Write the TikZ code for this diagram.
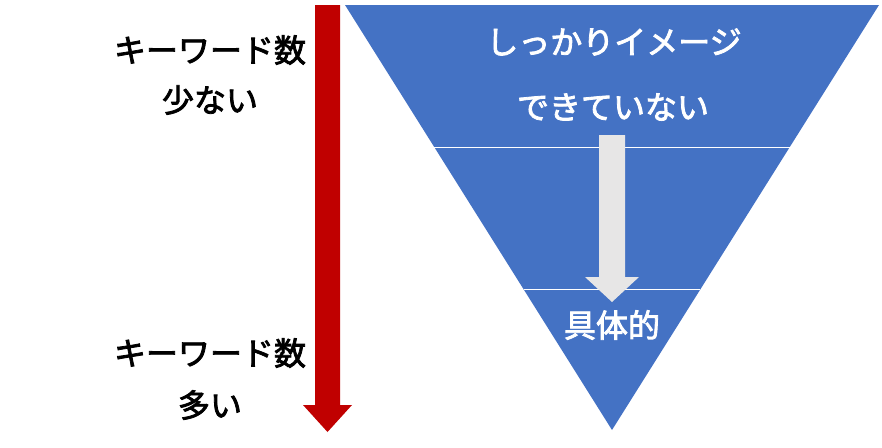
\documentclass[tikz,border=0pt]{standalone}
\usepackage{fontspec}
\setmainfont{Noto Sans CJK JP}
\newfontfamily\jpmed{Noto Sans CJK JP}[FakeBold=2.5]
\begin{document}
\begin{tikzpicture}[x=1pt,y=-1pt,
  lbl/.style={font=\jpmed\fontsize{32}{32}\selectfont, text=black, inner sep=0pt},
  wlbl/.style={font=\jpmed\fontsize{32}{32}\selectfont, text=white, inner sep=0pt}]
\definecolor{tblue}{HTML}{4472C4}
\definecolor{ared}{HTML}{C00000}
\definecolor{agray}{HTML}{E7E6E6}
\useasboundingbox (0,0) rectangle (882,447);
% red arrow
\fill[ared] (315,5) -- (340,5) -- (340,405) -- (352,405) -- (327.5,432) -- (303,405) -- (315,405) -- cycle;
% triangle
\coordinate (tl) at (345,5);
\coordinate (tr) at (879,5);
\coordinate (ap) at (612,430);
\fill[tblue] (tl) -- (tr) -- (ap) -- cycle;
\draw[white, line width=1pt] (434,147) -- (790,147);
\draw[white, line width=1pt] (524,289) -- (700,289);
% gray arrow
\fill[agray] (599,135) -- (625,135) -- (625,277) -- (639,277) -- (612,302) -- (585,277) -- (599,277) -- cycle;
% texts
\node[wlbl] (t1) at (614,42) {しっかりイメージ};
\node[wlbl] (t2) at (613,107) {できていない};
\node[wlbl] (t3) at (612,325) {具体的};
\node[lbl] (l1) at (210,50) {キーワード数};
\node[lbl] (l2) at (210,100) {少ない};
\node[lbl] (l3) at (210,353) {キーワード数};
\node[lbl] (l4) at (210,405) {多い};
\end{tikzpicture}
\end{document}
